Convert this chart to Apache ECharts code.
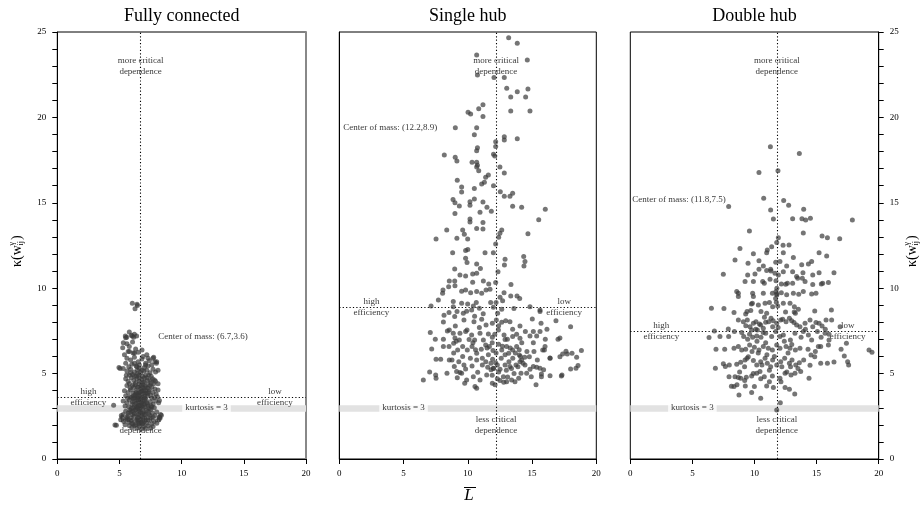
<!DOCTYPE html>
<html><head><meta charset="utf-8">
<script src="https://cdn.jsdelivr.net/npm/echarts@6/dist/echarts.min.js"></script>
<style>html,body{margin:0;padding:0;background:#fff}#c{width:922px;height:509px}</style>
</head><body><div id="c"></div>
<script>
const panelTitles = ['Fully connected', 'Single hub', 'Double hub'];
const xTicks = [0, 5, 10, 15, 20];
const yRange = [0, 25];
const centerX = [6.7, 12.2, 11.8];
const centerY = [3.6, 8.9, 7.5];
const kurtosisLevel = 3;

const fullyConnected = [
[6.03,9.12],[6.41,9.06],[6.25,8.79],[6.44,8.98],[5.79,7.44],[5.47,7.2],[6.03,7.2],[6.14,7.13],[6.38,7.2],[5.58,7.13],[5.31,6.81],[5.79,6.58],[5.26,6.52],[6.3,6.44],[6.81,6.38],[4.96,5.35],[7.75,5.96],[7.97,5.6],[4.53,3.14],[4.75,1.97],[8.23,2.44],[8.37,2.56],[8.15,2.29],[8.21,3.42],[8.1,4.04],[7.81,4.63],
[5.5,7.1],[5.95,7.25],[6.2,7.3],[5.6,6.75],[6.05,6.85],[5.8,6.3],[5.4,6.1],[6.2,6.2],[5.05,5.3],[7.3,5.9],[5.55,4.9],[8.1,5.2],[7.99,5.7],[4.64,1.99],[8.26,2.38],
[5.6,5.9],[5.9,5.8],[6.2,5.95],[6.5,5.7],[6.8,5.85],[7.1,5.6],[7.4,5.75],[7.7,5.9],[7.85,5.7],[6.0,5.55],[6.35,5.45],[6.6,5.5],[7.0,5.35],[7.3,5.45],[5.5,5.6],[5.75,5.4],[7.6,5.5],[6.9,6.0],[6.1,6.2],[5.7,6.3],[6.5,6.25],[7.2,6.1],
[5.3,5.3],[5.6,5.15],[5.9,5.25],[6.2,5.1],[6.45,5.2],[6.7,5.05],[6.95,5.15],[7.2,5.2],[7.45,5.05],[7.7,5.25],[7.9,5.1],[6.05,4.95],[6.55,4.9],[6.85,4.85],[7.35,4.9],[5.8,4.9],
[5.5,4.7],[5.7,4.55],[5.95,4.75],[6.15,4.6],[6.4,4.7],[6.6,4.55],[6.8,4.65],[7.0,4.5],[7.2,4.75],[7.45,4.6],[7.65,4.7],[7.9,4.55],[8.1,4.4],[6.3,4.45],[6.9,4.35],[7.1,4.25],[5.6,4.3],[6.05,4.3],[6.5,4.2],[7.3,4.35],[7.6,4.2],[7.85,4.1],[6.7,4.1],
[5.4,4.0],[5.7,3.9],[5.9,4.05],[6.1,3.85],[6.3,4.0],[6.45,3.75],[6.6,3.9],[6.8,3.8],[6.95,4.0],[7.15,3.85],[7.35,3.95],[7.5,3.75],[7.7,3.9],[7.95,3.8],[5.85,3.65],[6.2,3.6],[6.55,3.55],[6.75,3.6],[7.05,3.55],[7.25,3.7],[7.6,3.55],[8.05,3.65],[5.5,3.7],
[5.3,3.4],[5.6,3.3],[5.8,3.45],[6.0,3.2],[6.2,3.4],[6.35,3.25],[6.5,3.45],[6.65,3.15],[6.85,3.35],[7.0,3.2],[7.15,3.45],[7.3,3.1],[7.5,3.35],[7.7,3.2],[7.9,3.4],[8.15,3.3],[5.75,3.05],[6.1,3.0],[6.45,3.05],[6.9,3.0],[7.4,2.95],[7.8,3.0],[5.45,3.1],
[5.3,2.6],[5.5,2.8],[5.7,2.55],[5.9,2.75],[6.05,2.6],[6.25,2.85],[6.4,2.65],[6.6,2.8],[6.75,2.55],[6.95,2.75],[7.1,2.6],[7.3,2.8],[7.45,2.55],[7.65,2.7],[7.85,2.55],[8.0,2.75],[6.15,2.5],[6.5,2.45],[6.85,2.45],[7.2,2.4],[7.55,2.4],[5.6,2.45],[5.95,2.4],
[5.1,2.3],[5.35,2.2],[5.55,2.35],[5.75,2.15],[5.95,2.25],[6.1,2.05],[6.3,2.25],[6.5,2.1],[6.7,2.3],[6.85,2.05],[7.0,2.2],[7.2,2.1],[7.4,2.25],[7.6,2.05],[7.8,2.2],[8.0,2.1],[6.2,1.95],[6.6,1.9],[6.95,1.9],[7.3,1.95],[7.7,1.9],[5.8,1.95],[5.45,2.0],
[6.4,1.8],[6.8,1.75],[7.1,1.8],[6.0,1.85],[7.5,1.8],
[6.5,3.3],[6.7,3.0],[6.6,2.9],[6.8,3.1],[6.4,3.6],[6.9,3.6],[6.6,4.4],[6.8,4.0],[6.3,2.9],[7.0,2.6],[6.55,2.2],[6.75,2.15],[6.45,2.4],[6.9,2.35],[6.35,3.05],[6.25,3.75],[7.05,3.7],[7.1,4.0],[6.15,4.2],[7.25,4.6],[6.45,5.0],[6.6,5.3],[6.2,5.6],[7.0,4.75],[6.05,3.35],[7.2,3.3],[6.7,3.45],[6.5,3.85],[6.85,4.2],[6.35,4.85],[6.75,4.3],[7.4,4.05],[7.55,4.45],[5.85,4.15],[5.65,3.55],[5.95,2.95],[7.6,3.05],[7.35,2.65],[6.0,2.1],[5.7,2.7],[8.2,2.45],[8.3,2.6],[5.2,2.45],[5.15,2.55],
[6.3,2.0],[6.6,2.05],[6.9,2.1],[7.15,2.3],[6.4,2.3],[6.2,2.65],[6.55,2.6],[6.85,2.7],[7.15,2.85],[6.45,2.95],[6.7,2.75],[7.05,3.05],[6.2,3.15],[6.55,3.15],[6.9,3.25],[7.25,3.2],[6.4,3.45],[6.75,3.3],[7.0,3.45],[6.1,3.55],[6.6,3.7],[6.95,3.85],[7.3,3.85],[6.35,3.9],[6.7,3.95],[7.05,4.15],[6.45,4.2],[6.9,4.5],[6.25,4.35],[7.45,4.3],[6.6,4.75],[7.1,4.9],[6.2,4.85],[6.8,5.2],[7.1,5.5],[6.4,5.4],[5.9,5.05],[7.55,4.85],[7.75,4.4],[5.8,4.4],[5.95,3.6],[7.8,3.6],[7.55,3.1],[5.85,2.85],[7.7,2.45],[5.7,2.3],[6.05,2.8],[7.5,2.9],[6.15,3.7],[7.25,4.15]
];

const singleHub = [
[13.18,24.67],[13.85,24.34],[10.69,23.65],[10.75,22.48],[14.63,23.36],[12.04,22.33],[12.84,22.33],[13.03,21.7],[13.85,21.5],[14.68,21.66],[13.34,21.19],[14.5,21.19],[11.18,20.74],[10.85,20.51],[10.02,20.3],[10.22,20.2],[11.18,20.06],[13.34,20.37],[14.84,20.37],[9.03,19.4],[10.69,19.4],[10.51,18.99],[12.84,18.87],[12.84,18.67],[13.85,18.75],[12.17,18.58],[12.17,18.3],[10.75,18.23],[10.69,18.05],[12.0,17.84],[12.1,17.74],[8.17,17.8],[9.02,17.66],[9.15,17.45],[10.33,17.37],[10.69,17.37],[10.75,17.2],[10.69,17.1],[12.5,17.1],[12.84,16.74],[10.85,16.88],[11.6,16.63],[11.39,16.5],[9.18,16.32],[11.08,16.1],[11.29,16.2],[12.0,16.0],[9.52,15.92],[9.52,15.63],[10.51,15.83],[12.53,15.65],[12.84,15.38],[13.49,15.56],[13.28,15.38],[10.51,15.22],[10.17,15.06],[10.17,14.85],[8.85,15.2],[9.0,15.0],[9.34,14.81],[11.18,15.04],[11.49,14.74],[11.83,14.5],[13.49,14.8],[14.19,14.74],[16.03,14.62],[9.0,14.38],[10.95,14.44],[15.52,14.01],[10.17,14.05],[10.17,13.87],[11.18,13.84],[8.36,13.41],[9.6,13.41],[9.73,13.16],[10.69,13.5],[11.18,13.47],[12.64,13.41],[12.5,13.21],[12.4,12.98],[12.17,12.59],[14.68,13.19],[7.53,12.88],[9.15,12.92],[9.99,12.88],[10.0,12.26],
[8.82,12.08],[9.83,12.2],[11.34,12.08],[11.99,12.08],[14.35,11.85],[14.45,11.56],[14.37,11.3],[9.83,11.75],[9.94,11.5],[12.9,11.7],[12.85,11.36],[12.35,10.97],[10.69,11.42],[10.98,11.15],[8.98,11.13],[9.39,10.78],[9.83,10.72],[10.38,10.83],[10.38,10.35],[8.98,10.42],[8.56,10.42],[11.21,10.42],[10.69,10.87],[11.63,10.25],[12.17,10.33],[13.36,10.21],
[7.71,9.31],[8.07,9.9],[8.04,9.7],[8.51,10.09],[9.0,10.15],[9.52,9.82],[9.83,9.9],[10.22,9.74],[10.69,9.8],[11.08,9.7],[11.42,9.9],[11.73,9.94],[12.82,9.74],[13.34,9.55],[13.83,9.55],[14.04,9.39],[12.51,9.47],[12.71,9.27],[12.2,9.16],[11.78,9.16],[7.14,8.96],[8.87,9.22],[9.52,9.12],[9.99,9.08],[10.66,9.16],[10.43,8.96],[8.87,8.92],[9.16,8.63],[8.15,8.41],[8.54,8.57],[8.98,8.34],[9.65,8.53],[9.91,8.65],[10.3,8.73],[10.9,8.83],[11.99,8.88],[12.32,8.53],[12.64,8.77],[13.59,8.81],[14.84,8.92],[15.62,8.73],[15.62,8.63],[15.02,8.2],[15.7,7.95],[16.16,7.6],[16.86,8.1],[18.0,7.75],
[8.1,8.02],[8.41,7.5],[9.03,7.79],[9.7,8.14],[9.94,7.56],[10.48,8.04],[10.53,8.36],[11.08,8.18],[11.42,7.85],[11.91,7.95],[12.22,8.14],[12.64,8.0],[12.95,8.1],[13.28,8.04],[13.49,7.6],[14.06,7.79],[14.48,7.46],[15.1,7.46],[15.62,7.46],[16.03,7.01],[17.02,7.01],[17.17,7.09],[7.08,7.4],[7.47,7.01],[8.1,7.01],[8.56,7.56],[8.87,7.36],[9.0,7.09],[9.34,6.97],[9.39,7.36],[9.83,7.46],[10.3,7.26],[10.95,7.36],[11.21,6.97],[11.6,7.32],[11.91,7.13],[12.38,7.56],[12.82,7.26],[13.08,7.01],[13.49,7.17],[14.06,7.07],[14.84,7.2],[15.36,7.2],[15.1,6.81],[15.96,6.38],[16.4,5.92],[17.17,5.99],[17.74,6.15],[17.64,6.31],[18.11,6.19],[18.47,5.96],[18.84,6.35],
[7.19,6.44],[7.53,5.84],[7.89,5.84],[8.1,6.58],[8.54,6.58],[8.9,6.78],[9.21,6.38],[9.6,6.58],[9.96,6.38],[10.33,6.58],[10.53,6.97],[10.69,6.19],[11.05,6.42],[11.13,5.9],[11.39,6.68],[11.68,6.58],[11.96,6.35],[11.93,5.84],[12.4,6.72],[12.64,6.38],[13.02,6.58],[13.18,6.19],[13.49,6.38],[13.8,6.58],[14.01,6.09],[14.19,5.8],[14.43,5.96],[14.79,5.99],[15.15,6.29],[15.41,5.8],[15.83,6.38],[16.01,6.58],[16.4,5.9],[17.38,6.15],[18.58,5.47],[18.42,5.31],[18.0,5.27],[17.33,4.92],[17.28,4.86],
[8.56,5.8],[8.77,5.8],[8.95,5.41],[9.13,5.12],[9.52,5.02],[9.83,5.27],[10.33,5.45],[10.69,5.8],[11.13,5.51],[11.55,5.37],[11.81,5.22],[11.99,5.31],[12.17,5.64],[12.51,5.25],[12.9,5.51],[13.28,5.41],[13.75,5.51],[14.06,5.7],[14.45,5.51],[14.84,5.25],[15.1,5.41],[15.36,5.37],[15.62,5.31],[15.9,5.22],[16.4,4.88],[7.03,5.1],[7.5,4.92],[7.53,4.73],[8.38,5.02],[9.18,4.75],[9.39,5.06],[9.76,4.43],[9.91,4.63],[10.43,4.82],[10.77,5.08],[10.56,4.24],[10.69,4.14],[10.95,4.63],[11.47,4.92],[11.91,4.43],[12.12,4.34],[12.51,4.59],[12.77,4.82],[13.02,4.53],[13.41,4.63],[13.67,4.53],[13.96,4.73],[14.14,5.02],[14.58,5.02],[14.94,4.82],[15.31,4.34],[15.73,4.98],[15.73,4.82],[6.54,4.63],
[12.3,5.5],[12.6,5.9],[12.9,6.1],[13.2,5.7],[13.5,5.9],[13.7,6.2],[13.9,5.4],[14.1,6.0],[14.3,5.6],[13.0,5.2],[12.4,5.1],[12.2,6.2],[11.8,5.6],[13.6,5.0],[14.0,6.4],[13.3,6.5],[12.7,6.6],[11.9,6.8],[12.1,7.3],[12.4,7.8],[11.6,6.1],[11.4,5.7],[14.6,6.3],[13.1,4.8],[12.3,4.7],[11.9,4.9],[10.6,6.4],[10.2,5.9],[9.6,6.0],[9.3,5.7],[10.9,7.7],[10.1,7.0],[12.9,7.0],[13.8,7.3],[14.2,6.8],[11.2,8.5],[9.1,6.9],[8.9,6.2],[9.7,5.5],[10.4,6.8],[11.5,6.5],[12.0,5.3],[13.4,5.3],[12.8,4.5]
];

const doubleHub = [
[11.28,18.28],[13.61,17.89],[10.36,16.78],[11.89,16.88],[10.74,15.26],[12.35,15.14],[7.92,14.79],[12.75,14.85],[11.3,14.58],[13.96,14.62],[11.52,14.05],[13.07,14.07],[13.82,14.07],[14.12,14.0],[14.5,14.09],[17.88,13.99],[9.59,13.35],[13.93,13.23],[15.44,13.05],[15.87,12.95],[16.86,12.9],[11.92,12.95],[11.79,12.68],[11.38,12.43],[11.03,12.23],[12.3,12.51],[12.78,12.53],[8.83,12.33],[13.13,11.8],
[9.91,12.01],[10.98,12.08],[12.32,12.08],[8.43,11.65],[9.48,11.46],[10.36,11.6],[10.71,11.3],[11.3,11.11],[11.71,11.52],[12.05,11.56],[12.59,11.3],[13.8,11.38],[14.34,11.42],[14.6,11.56],[15.2,12.08],[15.81,11.89],[7.49,10.82],[9.45,10.78],[10.04,10.83],[10.36,11.11],[10.98,11.03],[11.33,11.01],[11.65,10.87],[11.92,10.78],[12.32,10.97],[13.07,10.97],[13.39,10.68],[13.9,10.91],[14.69,10.78],[15.2,10.91],[15.49,10.29],[15.95,10.33],[16.4,10.91],[9.24,10.39],[9.91,10.39],[10.66,10.39],[10.79,10.29],[11.25,10.52],[11.73,10.44],[12.16,10.25],[12.51,10.23],[12.65,10.29],[13.07,10.29],[13.48,10.58],[13.85,10.58],[14.07,10.39],[14.69,10.21],[15.38,10.25],
[8.57,9.8],[8.7,9.7],[9.85,9.7],[9.91,9.51],[10.71,9.7],[11.44,9.7],[11.73,9.8],[11.79,9.66],[12.16,9.74],[12.59,9.61],[13.13,9.7],[13.56,9.64],[13.93,9.8],[14.6,9.66],[14.95,9.7],[6.53,8.82],[7.54,8.81],[8.7,9.51],[8.35,8.57],[9.29,8.49],[9.4,8.63],[9.75,9.08],[9.83,9.12],[10.31,9.02],[10.52,8.63],[10.85,9.12],[11.2,9.16],[10.98,8.53],[11.46,8.92],[11.76,9.18],[11.87,8.96],[12.32,9.12],[12.86,9.12],[13.21,8.92],[13.29,8.53],[13.53,8.77],[14.85,8.67],[16.19,8.73],
[7.89,7.61],[8.7,8.14],[9.1,8.04],[9.42,8.14],[9.64,7.75],[9.77,7.56],[9.91,7.95],[10.12,8.04],[10.23,7.56],[10.5,7.85],[10.71,7.65],[11.14,8.04],[11.33,8.24],[11.46,7.75],[11.79,7.95],[12.11,8.14],[12.27,8.18],[12.54,8.04],[12.81,8.24],[12.99,8.1],[13.18,7.99],[13.39,7.85],[13.66,7.75],[14.07,7.95],[14.47,8.14],[14.69,7.75],[14.95,7.99],[15.2,7.95],[15.44,7.79],[15.76,8.14],[16.21,8.14],[16.89,7.75],
[6.34,7.11],[6.77,7.5],[7.22,7.17],[7.92,7.17],[8.38,7.46],[8.97,7.4],[9.13,7.17],[9.45,7.01],[9.85,7.13],[10.18,7.2],[10.52,7.13],[10.9,7.36],[11.38,7.17],[11.71,7.46],[12.05,7.17],[12.32,7.26],[12.89,6.97],[13.26,7.36],[13.75,7.13],[13.93,7.46],[14.34,7.26],[14.6,6.97],[15.06,7.46],[15.36,7.13],[15.68,7.36],[16.0,6.97],[17.4,6.78],
[6.9,6.42],[7.6,6.42],[8.35,6.48],[8.7,6.58],[8.97,6.38],[9.29,6.42],[9.61,6.68],[9.99,6.54],[10.36,6.38],[10.71,6.58],[11.11,6.48],[11.44,6.38],[11.79,6.68],[12.05,6.48],[12.54,6.58],[12.86,6.48],[13.29,6.38],[13.66,6.48],[14.31,6.42],[14.55,6.09],[15.14,6.58],[15.33,6.58],[15.95,6.68],[16.97,6.42],[17.23,6.03],[17.5,5.7],[17.58,5.51],[19.22,6.38],[19.46,6.25],
[6.85,5.31],[7.49,5.57],[7.65,5.41],[7.97,5.51],[8.57,5.55],[8.89,5.66],[9.24,5.8],[9.5,5.99],[9.91,5.76],[10.18,5.51],[10.5,5.7],[10.85,5.9],[11.03,5.6],[11.46,5.8],[11.79,5.51],[12.11,5.7],[12.43,5.9],[12.81,5.6],[13.02,5.8],[13.32,5.51],[13.61,5.64],[13.96,5.8],[14.47,5.49],[14.85,5.99],[15.33,5.6],[15.87,5.6],[16.4,5.68],
[7.95,4.82],[8.43,4.82],[8.7,4.77],[8.89,4.73],[9.21,4.59],[9.34,4.78],[9.77,4.86],[10.18,5.02],[10.44,5.12],[10.79,4.82],[11.2,4.53],[11.44,4.86],[12.05,4.73],[12.46,5.02],[12.94,4.92],[13.26,5.02],[13.72,5.12],[14.39,4.73],[8.14,4.26],[8.35,4.24],[8.59,4.34],[8.75,3.75],[9.26,4.28],[9.77,3.89],[9.99,4.24],[10.5,3.56],[10.98,4.28],[11.52,4.18],[12.13,4.53],[12.46,4.18],[12.81,4.08],[13.24,3.81],[12.08,3.3],[11.79,2.87],
[10.3,6.2],[10.6,5.5],[10.9,6.8],[11.2,5.2],[9.8,6.3],[10.1,7.6],[10.4,7.9],[9.6,7.3],[10.7,7.4],[11.0,6.1],[11.6,6.0],[12.2,5.4],[12.7,6.2],[13.0,6.7],[12.4,6.9],[11.9,7.7],[11.5,8.1],[10.9,8.0],[10.2,6.9],[9.4,5.9],[9.2,5.4],[8.8,5.1],[9.9,5.0],[10.5,4.7],[11.3,5.4],[12.6,5.1],[13.5,5.3],[12.9,5.4],[11.7,9.4],[11.8,10.0],[11.8,9.6],[12.5,8.6],[10.8,8.3],[9.7,8.7],[9.3,7.8],[13.2,8.6],[14.1,7.6],[15.7,7.6],[16.0,7.3],[14.9,6.3]
];

const panelData = [fullyConnected, singleHub, doubleHub];

// layout (pixels) and annotation placement
const SERIF = "'Liberation Serif','Times New Roman',serif";
const GRID_TOP = 32, GRID_H = 427;
const grids = [{left: 57.3, width: 248.7}, {left: 339.3, width: 257}, {left: 630.3, width: 248.4}];
const kurtLabelX = [12, 5, 5];
const comLabelPos = [[8.07, 7.14], [0.27, 19.38], [0.11, 15.16]];

const chart = echarts.init(document.getElementById('c'), null, {renderer: 'canvas'});

const gridOpt = grids.map(g => ({left: g.left, top: GRID_TOP, width: g.width, height: GRID_H,
  show: true, borderColor: '#000', borderWidth: 1, backgroundColor: 'transparent', containLabel: false}));

const axisLabelStyle = {fontFamily: SERIF, fontSize: 9, color: '#000'};
const xAxes = grids.map((g, i) => ({
  gridIndex: i, type: 'value', min: xTicks[0], max: xTicks[xTicks.length - 1], interval: 5,
  axisLine: {show: true, onZero: false, lineStyle: {color: '#000', width: 1}},
  axisTick: {show: true, inside: false, length: 5, lineStyle: {color: '#000'}},
  axisLabel: Object.assign({margin: 10}, axisLabelStyle),
  splitLine: {show: false}
}));
const yBase = {type: 'value', min: yRange[0], max: yRange[1], interval: 1, splitLine: {show: false}};
const tickFmt = v => (v % 5 === 0 ? String(v) : '');
const yAxes = [
  Object.assign({}, yBase, {gridIndex: 0, position: 'left',
    axisLine: {show: true, onZero: false, lineStyle: {color: '#000', width: 1}},
    axisTick: {show: true, inside: false, length: 5, lineStyle: {color: '#000'}},
    axisLabel: Object.assign({margin: 11, formatter: tickFmt}, axisLabelStyle)}),
  Object.assign({}, yBase, {gridIndex: 0, position: 'right',
    axisLine: {show: true, onZero: false, lineStyle: {color: '#888', width: 2}},
    axisTick: {show: false}, axisLabel: {show: false}}),
  Object.assign({}, yBase, {gridIndex: 1, position: 'left',
    axisLine: {show: true, onZero: false, lineStyle: {color: '#000', width: 1}},
    axisTick: {show: false}, axisLabel: {show: false}}),
  Object.assign({}, yBase, {gridIndex: 2, position: 'right',
    axisLine: {show: true, onZero: false, lineStyle: {color: '#000', width: 1}},
    axisTick: {show: true, inside: false, length: 5, lineStyle: {color: '#000'}},
    axisLabel: Object.assign({margin: 11, formatter: tickFmt}, axisLabelStyle)})
];
const yIdx = [0, 2, 3];

const series = [];
panelData.forEach((pts, i) => {
  const cx = centerX[i], cy = centerY[i];
  series.push({type: 'line', data: [], xAxisIndex: i, yAxisIndex: yIdx[i], silent: true, z: 1,
    markLine: {silent: true, z: 1, symbol: ['none', 'none'], label: {show: false},
      lineStyle: {color: '#e2e2e2', width: 6.5, type: 'solid'},
      emphasis: {disabled: true}, data: [{yAxis: kurtosisLevel}]}});
  series.push({type: 'line', data: [], xAxisIndex: i, yAxisIndex: yIdx[i], silent: true, z: 2,
    markLine: {silent: true, z: 2, symbol: ['none', 'none'], label: {show: false},
      lineStyle: {color: '#000', width: 1.1, type: [1.2, 2.2]},
      emphasis: {disabled: true}, data: [{xAxis: cx}, {yAxis: cy}]}});
  const lbl = {show: true, position: 'inside', fontFamily: SERIF, fontSize: 9, color: '#000', lineHeight: 11, formatter: '{b}'};
  series.push({type: 'scatter', xAxisIndex: i, yAxisIndex: yIdx[i], silent: true, z: 3,
    symbolSize: 1, itemStyle: {color: 'transparent'}, label: lbl,
    data: [
      {name: 'more critical\ndependence', value: [cx, 22.98]},
      {name: 'less critical\ndependence', value: [cx, 1.96]},
      {name: 'high\nefficiency', value: [2.5, cy]},
      {name: 'low\nefficiency', value: [17.5, cy]},
      {name: 'Center of mass: (' + cx + ',' + cy + ')', value: comLabelPos[i],
        label: {position: 'right', distance: 0}},
      {name: 'kurtosis = ' + kurtosisLevel, value: [kurtLabelX[i], kurtosisLevel],
        label: {backgroundColor: '#fff', padding: [1, 3, 0, 3], lineHeight: 10}}
    ]});
  series.push({type: 'scatter', xAxisIndex: i, yAxisIndex: yIdx[i], z: 10, silent: true,
    symbol: 'circle', symbolSize: 5, data: pts,
    itemStyle: {color: '#3a3a3a', opacity: 0.7}});
});

const graphics = [];
panelTitles.forEach((t, i) => {
  graphics.push({type: 'text', x: grids[i].left + grids[i].width / 2, y: 16, silent: true,
    style: {text: t, fill: '#000', font: '18px ' + SERIF, align: 'center', verticalAlign: 'middle',
      textAlign: 'center', textVerticalAlign: 'middle'}});
});
function kappaLabel(x, y) {
  return {type: 'group', x: x, y: y, rotation: Math.PI / 2, silent: true, children: [
    {type: 'text', x: 0, y: 0, style: {text: 'κ(w', fill: '#000', font: '14px ' + SERIF, align: 'left', verticalAlign: 'middle', textAlign: 'left', textVerticalAlign: 'middle'}},
    {type: 'text', x: 21.5, y: 4, style: {text: 'ij', fill: '#000', font: '8px ' + SERIF, align: 'left', verticalAlign: 'middle', textAlign: 'left', textVerticalAlign: 'middle'}},
    {type: 'text', x: 21.5, y: -5, style: {text: 'γ', fill: '#000', font: '8px ' + SERIF, align: 'left', verticalAlign: 'middle', textAlign: 'left', textVerticalAlign: 'middle'}},
    {type: 'text', x: 27, y: 0, style: {text: ')', fill: '#000', font: '14px ' + SERIF, align: 'left', verticalAlign: 'middle', textAlign: 'left', textVerticalAlign: 'middle'}}
  ]};
}
graphics.push(kappaLabel(17, 267));
graphics.push(kappaLabel(912, 267));
graphics.push({type: 'text', x: 469, y: 496, silent: true,
  style: {text: 'L', fill: '#000', font: 'italic 17px ' + SERIF, align: 'center', verticalAlign: 'middle', textAlign: 'center', textVerticalAlign: 'middle'}});
graphics.push({type: 'line', silent: true, shape: {x1: 464, y1: 487.5, x2: 476, y2: 487.5}, style: {stroke: '#000', lineWidth: 1}});

chart.setOption({
  animation: false,
  backgroundColor: '#fff',
  grid: gridOpt,
  xAxis: xAxes,
  yAxis: yAxes,
  series: series,
  graphic: graphics
});
</script>
</body></html>
